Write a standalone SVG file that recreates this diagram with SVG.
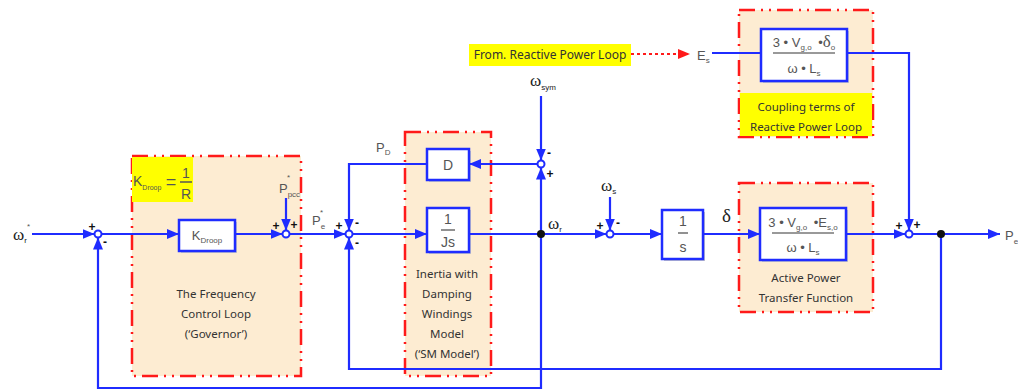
<svg xmlns="http://www.w3.org/2000/svg" width="1018" height="390" viewBox="0 0 1018 390">
<style>
.grp{fill:#fdecd2;stroke:#ff1a1a;stroke-width:2.5;stroke-dasharray:16 6 2 6 2 6}
.blk{fill:#fff;stroke:#1f2cff;stroke-width:2.5}
.shd{fill:#c8c8c8}
.w{stroke:#1f2cff;stroke-width:2.2;fill:none}
.sum{fill:#fff;stroke:#1f2cff;stroke-width:2}
.dot{fill:#111}
.t{font-family:"Noto Sans","Liberation Sans",sans-serif;fill:#333;font-size:11.5px;text-anchor:middle}
.b{font-family:"Liberation Sans",sans-serif;fill:#555;font-size:14px;text-anchor:middle}
.g{font-family:"Liberation Serif",serif;fill:#222;font-size:17px}
.sg{font-family:"Liberation Sans",sans-serif;fill:#111;font-size:12px;font-weight:bold;text-anchor:middle}
.sub{font-size:8px}
.st{font-family:"Liberation Sans",sans-serif;fill:#555;font-size:8px}
.yl{fill:#ffff00}
</style>
<defs>
<marker id="ah" viewBox="0 0 12 10" refX="12" refY="5" markerWidth="12" markerHeight="10" markerUnits="userSpaceOnUse" orient="auto"><path d="M0,0 L12,5 L0,10 z" fill="#1f2cff"/></marker>
<marker id="rh" viewBox="0 0 12 10" refX="12" refY="5" markerWidth="12" markerHeight="10" markerUnits="userSpaceOnUse" orient="auto"><path d="M0,0 L12,5 L0,10 z" fill="#ff1a1a"/></marker>
</defs>

<g id="governor">
<rect class="grp" x="132" y="156" width="169" height="220"/>
<rect class="yl" x="132" y="157" width="61" height="45"/>
<text class="b" x="133" y="186" style="text-anchor:start;font-size:14px">K<tspan style="font-size:7px" dy="4">Droop</tspan></text>
<text class="b" x="171" y="188" style="font-size:18px">=</text>
<text class="b" x="186" y="178" style="font-size:14px">1</text>
<line x1="180" y1="182" x2="192" y2="182" stroke="#555" stroke-width="1.5"/>
<text class="b" x="186" y="199" style="font-size:14px">R</text>
<text class="t" x="216" y="298">The Frequency</text>
<text class="t" x="216" y="318">Control Loop</text>
<text class="t" x="216" y="338">(‘Governor’)</text>
</g>

<g id="kdroop">
<rect class="shd" x="181" y="222" width="56" height="31"/>
<rect class="blk" x="179" y="220" width="56" height="31"/>
<text class="b" x="207" y="240" style="font-size:13px">K<tspan class="sub" dy="3">Droop</tspan></text>
</g>

<g id="sm">
<rect class="grp" x="405" y="132" width="86" height="244"/>
<text class="t" x="447" y="278">Inertia with</text>
<text class="t" x="447" y="298">Damping</text>
<text class="t" x="447" y="318">Windings</text>
<text class="t" x="447" y="338">Model</text>
<text class="t" x="447" y="358">(‘SM Model’)</text>
</g>

<g id="dblock">
<rect class="shd" x="429" y="151" width="42" height="31"/>
<rect class="blk" x="427" y="149" width="42" height="31"/>
<text class="b" x="448" y="170">D</text>
</g>

<g id="jsblock">
<rect class="shd" x="429" y="210" width="42" height="44"/>
<rect class="blk" x="427" y="208" width="42" height="44"/>
<text class="b" x="448" y="224">1</text>
<line x1="441" y1="230" x2="455" y2="230" stroke="#555" stroke-width="1.3"/>
<text class="b" x="448" y="247">Js</text>
</g>

<g id="sblock">
<rect class="shd" x="664" y="212" width="41" height="49"/>
<rect class="blk" x="662" y="210" width="41" height="49"/>
<text class="b" x="683" y="226">1</text>
<line x1="678" y1="233" x2="688" y2="233" stroke="#555" stroke-width="1.3"/>
<text class="b" x="683" y="252">s</text>
</g>

<g id="active">
<rect class="grp" x="739" y="183" width="134" height="129"/>
<rect class="shd" x="762" y="210" width="86" height="52"/>
<rect class="blk" x="760" y="208" width="86" height="52"/>
<text class="b" x="803" y="227" style="font-size:13px">3 • V<tspan class="sub" dy="3">g,o</tspan><tspan dy="-3" dx="3"> •E</tspan><tspan class="sub" dy="3">s,o</tspan></text>
<line x1="772" y1="233" x2="834" y2="233" stroke="#777" stroke-width="1.5"/>
<text class="b" x="803" y="252" style="font-size:13px">ω • L<tspan class="sub" dy="3">s</tspan></text>
<text class="t" x="806" y="282">Active Power</text>
<text class="t" x="806" y="302">Transfer Function</text>
</g>

<g id="coupling">
<rect class="grp" x="739" y="10" width="134" height="127"/>
<rect class="yl" x="740" y="93" width="132" height="43"/>
<rect class="shd" x="763" y="31" width="86" height="52"/>
<rect class="blk" x="761" y="29" width="86" height="52"/>
<text class="b" x="804" y="47" style="font-size:13px">3 • V<tspan class="sub" dy="3">g,o</tspan><tspan dy="-3" dx="3"> •</tspan><tspan style="font-size:17px;font-family:'Liberation Serif',serif">δ</tspan><tspan class="sub" dy="3">o</tspan></text>
<line x1="773" y1="53" x2="835" y2="53" stroke="#777" stroke-width="1.5"/>
<text class="b" x="804" y="73" style="font-size:13px">ω • L<tspan class="sub" dy="3">s</tspan></text>
<text class="t" x="806" y="111">Coupling terms of</text>
<text class="t" x="806" y="131">Reactive Power Loop</text>
</g>

<g id="fromreactive">
<rect class="yl" x="469" y="44" width="162" height="22"/>
<text class="t" x="550" y="59" style="font-size:12px">From. Reactive Power Loop</text>
</g>

<g id="connectors">
<line class="w" x1="32" y1="234" x2="94.5" y2="234" marker-end="url(#ah)"/>
<line class="w" x1="101.5" y1="234" x2="179" y2="234" marker-end="url(#ah)"/>
<line class="w" x1="235" y1="234" x2="282.5" y2="234" marker-end="url(#ah)"/>
<line class="w" x1="286" y1="198" x2="286" y2="230.5" marker-end="url(#ah)"/>
<line class="w" x1="289.5" y1="234" x2="345.5" y2="234" marker-end="url(#ah)"/>
<line class="w" x1="352.5" y1="234" x2="427" y2="234" marker-end="url(#ah)"/>
<line class="w" x1="469" y1="234" x2="606.5" y2="234" marker-end="url(#ah)"/>
<polyline class="w" points="541,234 541,388 98,388 98,237.5" marker-end="url(#ah)"/>
<line class="w" x1="541" y1="234" x2="541" y2="167.5" marker-end="url(#ah)"/>
<line class="w" x1="541" y1="96" x2="541" y2="160.5" marker-end="url(#ah)"/>
<line class="w" x1="537.5" y1="164" x2="469" y2="164" marker-end="url(#ah)"/>
<polyline class="w" points="427,164 349,164 349,230.5" marker-end="url(#ah)"/>
<polyline class="w" points="941,234 941,369 349,369 349,237.5" marker-end="url(#ah)"/>
<line class="w" x1="610" y1="197" x2="610" y2="230.5" marker-end="url(#ah)"/>
<line class="w" x1="613.5" y1="234" x2="662" y2="234" marker-end="url(#ah)"/>
<line class="w" x1="703" y1="234" x2="760" y2="234" marker-end="url(#ah)"/>
<line class="w" x1="846" y1="234" x2="905.5" y2="234" marker-end="url(#ah)"/>
<line class="w" x1="712" y1="53" x2="761" y2="53"/>
<polyline class="w" points="847,53 909,53 909,230.5" marker-end="url(#ah)"/>
<line class="w" x1="912.5" y1="234" x2="1000" y2="234" marker-end="url(#ah)"/>
<line x1="631" y1="54" x2="690" y2="54" stroke="#ff1a1a" stroke-width="2" stroke-dasharray="3 3" marker-end="url(#rh)"/>
<circle class="dot" cx="541" cy="234" r="4"/>
<circle class="dot" cx="941" cy="234" r="4"/>
<circle class="sum" cx="98" cy="234" r="3.5"/>
<circle class="sum" cx="286" cy="234" r="3.5"/>
<circle class="sum" cx="349" cy="234" r="3.5"/>
<circle class="sum" cx="541" cy="164" r="3.5"/>
<circle class="sum" cx="610" cy="234" r="3.5"/>
<circle class="sum" cx="909" cy="234" r="3.5"/>
</g>

<g id="signs">
<text class="sg" x="92" y="231">+</text>
<text class="sg" x="105" y="246">-</text>
<text class="sg" x="276" y="230">+</text>
<text class="sg" x="294" y="229">+</text>
<text class="sg" x="339" y="230">+</text>
<text class="sg" x="357" y="227">-</text>
<text class="sg" x="357" y="247">-</text>
<text class="sg" x="549" y="157">-</text>
<text class="sg" x="550" y="178">+</text>
<text class="sg" x="600" y="230">+</text>
<text class="sg" x="618" y="227">-</text>
<text class="sg" x="899" y="230">+</text>
<text class="sg" x="917" y="229">+</text>
</g>

<g id="labels">
<text class="g" x="13" y="240">ω<tspan class="sub" dy="3" style="font-family:'Liberation Sans',sans-serif">r</tspan></text>
<text class="st" x="27" y="229">*</text>
<text class="b" x="279" y="193" style="text-anchor:start;font-size:13px">P<tspan class="sub" dy="4">pcc</tspan></text>
<text class="st" x="287" y="180">*</text>
<text class="b" x="312" y="225" style="text-anchor:start;font-size:13px">P<tspan class="sub" dy="4">e</tspan></text>
<text class="st" x="320" y="215">*</text>
<text class="b" x="376" y="152" style="text-anchor:start;font-size:13px">P<tspan class="sub" dy="3">D</tspan></text>
<text class="g" x="530" y="86">ω<tspan class="sub" dy="4" style="font-family:'Liberation Sans',sans-serif">sym</tspan></text>
<text class="g" x="548" y="229">ω<tspan class="sub" dy="3" style="font-family:'Liberation Sans',sans-serif">r</tspan></text>
<text class="g" x="601" y="191">ω<tspan class="sub" dy="3" style="font-family:'Liberation Sans',sans-serif">s</tspan></text>
<text class="g" x="722" y="222" style="font-size:19px">δ</text>
<text class="b" x="697" y="60" style="text-anchor:start;font-size:13px">E<tspan class="sub" dy="3">s</tspan></text>
<text class="b" x="1005" y="240" style="text-anchor:start;font-size:13px">P<tspan class="sub" dy="4">e</tspan></text>
</g>
</svg>
